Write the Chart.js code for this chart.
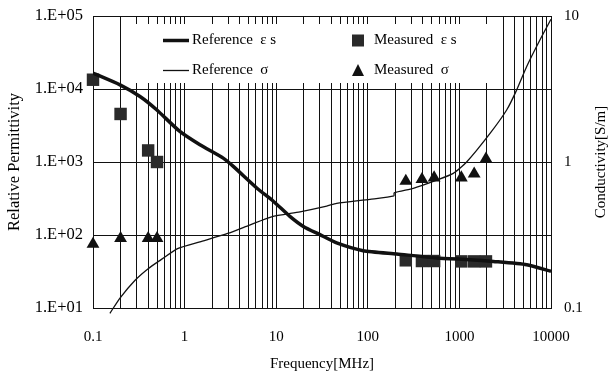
<!DOCTYPE html>
<html>
<head>
<meta charset="utf-8">
<script src="https://cdn.jsdelivr.net/npm/chart.js@4.4.0/dist/chart.umd.min.js"></script>
<style>
html, body { margin: 0; padding: 0; background: #fff; }
#wrap { width: 609px; height: 374px; }
</style>
</head>
<body>
<div id="wrap"><canvas id="permChart" width="609" height="374"></canvas></div>
<script>
// Reference curve of relative permittivity (thick line)
const refEpsFreq = [0.1, 0.197, 0.326, 0.495, 0.887, 1.47, 2.64, 3.4, 6.13, 9.3, 14.1, 19.8, 30, 45.7, 89, 207, 565, 1306, 2345, 5430, 10000];
const refEps = [16500, 11400, 7900, 5200, 2620, 1720, 1130, 870, 440, 290, 180, 131, 101, 78, 61, 55, 48.4, 45.9, 43.5, 39.2, 31.7];

// Reference curve of conductivity (thin line)
const refSigFreq = [0.153, 0.197, 0.288, 0.4, 0.54, 0.85, 1.47, 2.95, 5.13, 8.9, 18.2, 35.6, 45.7, 105.6, 193, 194, 314, 565, 857, 1200, 2160, 3280, 4224, 5430, 7590, 10000];
const refSig = [0.092, 0.117, 0.155, 0.186, 0.212, 0.256, 0.284, 0.324, 0.37, 0.421, 0.456, 0.499, 0.521, 0.555, 0.585, 0.615, 0.66, 0.751, 0.836, 1.0, 1.57, 2.27, 3.12, 4.51, 6.87, 9.5];

// Measured points
const measFreq = [0.1, 0.2, 0.4, 0.5, 260, 390, 530, 1050, 1450, 1950];
const measEps = [13400, 4550, 1440, 1000, 45, 44, 44, 43.5, 43.5, 43.5];
const measSig = [0.274, 0.3, 0.3, 0.3, 0.74, 0.76, 0.78, 0.78, 0.83, 1.05];

// Axis ticks
const xTickValues = [0.1, 1, 10, 100, 1000, 10000];
const xTickLabels = ['0.1', '1', '10', '100', '1000', '10000'];
const yLeftTickValues = [10, 100, 1000, 10000, 100000];
const yLeftTickLabels = ['1.E+01', '1.E+02', '1.E+03', '1.E+04', '1.E+05'];
const yRightTickValues = [0.1, 1, 10];
const yRightTickLabels = ['0.1', '1', '10'];

const legendLabels = ['Reference  ε s', 'Reference  σ', 'Measured  ε s', 'Measured  σ'];

const FONT = "'Liberation Serif', 'Times New Roman', serif";
Chart.defaults.font.family = FONT;
Chart.defaults.font.size = 15;
Chart.defaults.color = '#000';

const toPoints = (xs, ys) => xs.map((x, i) => ({ x: x, y: ys[i] }));

// все линии сетки: 1..9 в каждой декаде
function logGridTicks(min, max) {
    const ticks = [];
    for (let e = Math.round(Math.log10(min)); e < Math.round(Math.log10(max)); e++) {
        for (let m = 1; m < 10; m++) ticks.push({ value: m * Math.pow(10, e) });
    }
    ticks.push({ value: max });
    return ticks;
}

// фиксированная ширина вертикальной оси без лишних отступов
const fixWidth = w => s => { s.width = w; s.paddingTop = 0; s.paddingBottom = 0; };

const legendBox = {
    id: 'legendBox',
    beforeDatasetsDraw(chart) {
        const { ctx, chartArea: a } = chart;
        ctx.save();
        ctx.fillStyle = '#fff';
        ctx.fillRect(a.left + 34, a.top + 8, 368, 59);
        const rows = [a.top + 24.5, a.top + 54.5];
        ctx.font = '15px ' + FONT;
        ctx.textBaseline = 'middle';
        // образцы линий
        ctx.strokeStyle = '#111';
        ctx.lineWidth = 3.5;
        ctx.beginPath();
        ctx.moveTo(a.left + 70, rows[0]); ctx.lineTo(a.left + 96, rows[0]);
        ctx.stroke();
        ctx.lineWidth = 1.3;
        ctx.beginPath();
        ctx.moveTo(a.left + 70, rows[1]); ctx.lineTo(a.left + 96, rows[1]);
        ctx.stroke();
        // образцы маркеров
        ctx.fillStyle = '#2a2a2a';
        ctx.fillRect(a.left + 259, rows[0] - 6, 12, 12);
        ctx.fillStyle = '#111';
        ctx.beginPath();
        ctx.moveTo(a.left + 265, rows[1] - 6.5);
        ctx.lineTo(a.left + 271, rows[1] + 5.5);
        ctx.lineTo(a.left + 259, rows[1] + 5.5);
        ctx.closePath();
        ctx.fill();
        ctx.fillStyle = '#000';
        ctx.fillText(legendLabels[0], a.left + 99, rows[0]);
        ctx.fillText(legendLabels[1], a.left + 99, rows[1]);
        ctx.fillText(legendLabels[2], a.left + 281, rows[0]);
        ctx.fillText(legendLabels[3], a.left + 281, rows[1]);
        ctx.restore();
    },
    afterDraw(chart) {
        // правая подпись оси, повернутая снизу вверх
        const { ctx, chartArea: a } = chart;
        ctx.save();
        ctx.font = '15px ' + FONT;
        ctx.fillStyle = '#000';
        ctx.textAlign = 'center';
        ctx.textBaseline = 'middle';
        ctx.translate(chart.width - 8, (a.top + a.bottom) / 2);
        ctx.rotate(-Math.PI / 2);
        ctx.fillText('Conductivity[S/m]', 0, 0);
        ctx.restore();
    }
};

const chart = new Chart(document.getElementById('permChart'), {
    type: 'line',
    data: {
        datasets: [
            {
                label: legendLabels[0],
                data: toPoints(refEpsFreq, refEps),
                yAxisID: 'yL',
                borderColor: '#111',
                borderWidth: 3.5,
                pointRadius: 0,
                tension: 0.2
            },
            {
                label: legendLabels[1],
                data: toPoints(refSigFreq, refSig),
                yAxisID: 'yR',
                borderColor: '#111',
                borderWidth: 1.3,
                pointRadius: 0,
                tension: 0.2,
                clip: false
            },
            {
                label: legendLabels[2],
                data: toPoints(measFreq, measEps),
                yAxisID: 'yL',
                showLine: false,
                clip: false,
                pointStyle: 'rect',
                pointRadius: 8.8,
                pointBorderWidth: 0,
                pointBackgroundColor: '#2a2a2a'
            },
            {
                label: legendLabels[3],
                data: toPoints(measFreq, measSig),
                yAxisID: 'yR',
                showLine: false,
                clip: false,
                pointStyle: 'triangle',
                pointRadius: 7.4,
                pointBorderWidth: 0,
                pointBackgroundColor: '#111'
            }
        ]
    },
    options: {
        responsive: false,
        animation: false,
        devicePixelRatio: 1,
        layout: { padding: { top: 16, left: 0, right: 0, bottom: 0 } },
        plugins: {
            legend: { display: false },
            tooltip: { enabled: false }
        },
        scales: {
            x: {
                type: 'logarithmic',
                position: 'bottom',
                min: 0.1,
                max: 10000,
                afterBuildTicks: s => { s.ticks = logGridTicks(0.1, 10000); },
                afterFit: s => { s.height = 66; },
                ticks: {
                    autoSkip: false,
                    maxRotation: 0,
                    padding: 20,
                    callback: v => {
                        const i = xTickValues.findIndex(t => Math.abs(t - v) < t * 1e-6);
                        return i >= 0 ? xTickLabels[i] : '';
                    }
                },
                grid: { color: '#111', lineWidth: 1, drawTicks: false },
                border: { color: '#111', width: 1 },
                title: { display: true, text: 'Frequency[MHz]', padding: { top: 0, bottom: 1 } }
            },
            yL: {
                type: 'logarithmic',
                position: 'left',
                min: 10,
                max: 100000,
                afterBuildTicks: s => { s.ticks = yLeftTickValues.map(v => ({ value: v })); },
                afterFit: fixWidth(93),
                ticks: {
                    padding: 10,
                    font: { size: 16.5 },
                    callback: v => yLeftTickLabels[yLeftTickValues.findIndex(t => Math.abs(t - v) < t * 1e-6)]
                },
                grid: { color: '#111', lineWidth: 1, drawTicks: false },
                border: { color: '#111', width: 1 },
                title: { display: true, text: 'Relative Permittivity', font: { size: 16.5 }, padding: { top: 5, bottom: 0 } }
            },
            yR: {
                type: 'logarithmic',
                position: 'right',
                min: 0.1,
                max: 10,
                afterBuildTicks: s => { s.ticks = yRightTickValues.map(v => ({ value: v })); },
                afterFit: fixWidth(58),
                ticks: {
                    padding: 13,
                    callback: v => yRightTickLabels[yRightTickValues.findIndex(t => Math.abs(t - v) < t * 1e-6)]
                },
                grid: { drawOnChartArea: false, drawTicks: false },
                border: { color: '#111', width: 1 }
            }
        }
    },
    plugins: [legendBox]
});
</script>
</body>
</html>
